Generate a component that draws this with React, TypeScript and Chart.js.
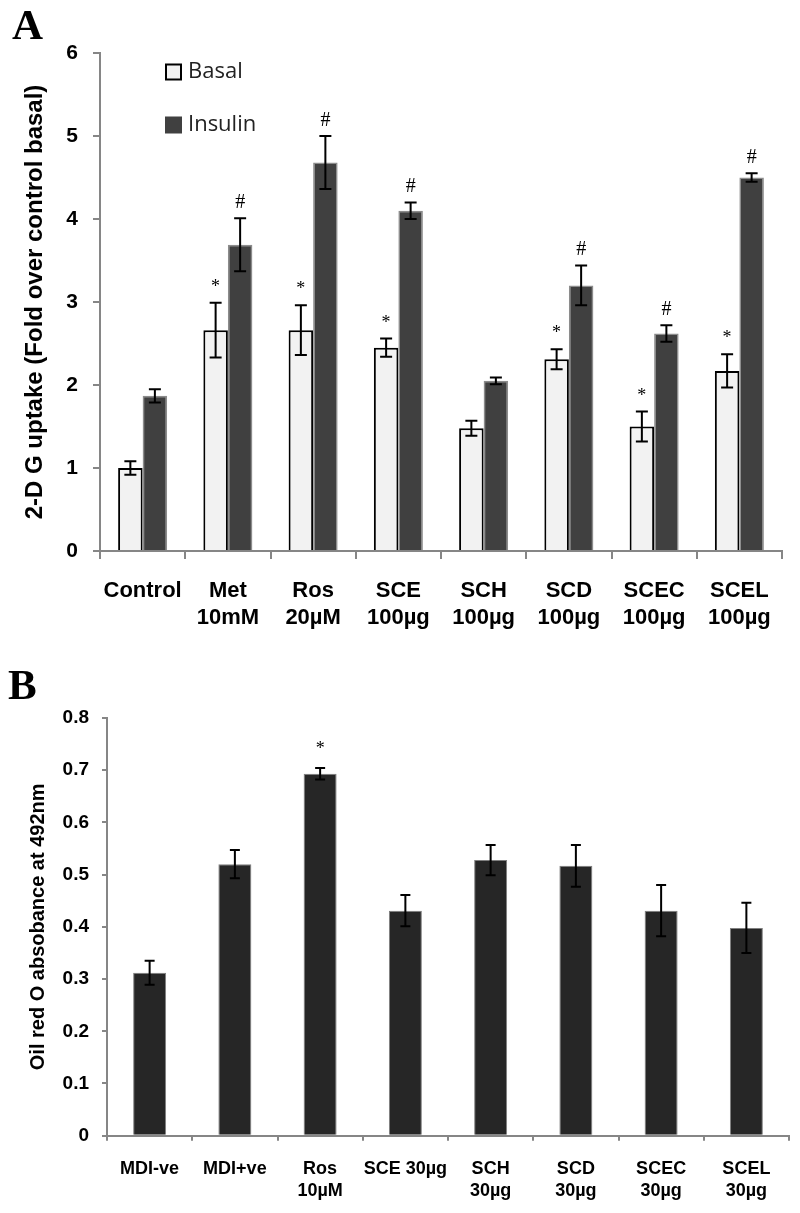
import React, { useEffect, useRef } from "react";
import { Chart, registerables } from "chart.js";

Chart.register(...registerables);

// ---------- Panel A data ----------
const categoriesA: string[][] = [
  ["Control"],
  ["Met", "10mM"],
  ["Ros", "20µM"],
  ["SCE", "100µg"],
  ["SCH", "100µg"],
  ["SCD", "100µg"],
  ["SCEC", "100µg"],
  ["SCEL", "100µg"],
];
const basalValues = [1.0, 2.66, 2.66, 2.45, 1.48, 2.31, 1.5, 2.17];
const basalErrors = [0.08, 0.33, 0.3, 0.11, 0.09, 0.12, 0.18, 0.2];
const basalMarks = ["", "*", "*", "*", "", "*", "*", "*"];
const insulinValues = [1.87, 3.69, 4.68, 4.1, 2.05, 3.2, 2.62, 4.5];
const insulinErrors = [0.08, 0.32, 0.32, 0.1, 0.04, 0.24, 0.1, 0.05];
const insulinMarks = ["", "#", "#", "#", "", "#", "#", "#"];
const yTickLabelsA = ["0", "1", "2", "3", "4", "5", "6"];
const seriesNamesA = ["Basal", "Insulin"];

// ---------- Panel B data ----------
const categoriesB: string[][] = [
  ["MDI-ve"],
  ["MDI+ve"],
  ["Ros", "10µM"],
  ["SCE 30µg"],
  ["SCH", "30µg"],
  ["SCD", "30µg"],
  ["SCEC", "30µg"],
  ["SCEL", "30µg"],
];
const oilValues = [0.312, 0.52, 0.693, 0.431, 0.528, 0.517, 0.431, 0.398];
const oilErrors = [0.023, 0.027, 0.011, 0.03, 0.029, 0.04, 0.049, 0.048];
const oilMarks = ["", "", "*", "", "", "", "", ""];
const yTickLabelsB = ["0", "0.1", "0.2", "0.3", "0.4", "0.5", "0.6", "0.7", "0.8"];

const SANS = "'Liberation Sans', Arial, sans-serif";
const SERIF = "'Liberation Serif', 'Times New Roman', serif";
const AXIS_GREY = "#868686";

const errorBarPlugin = {
  id: "errorBars",
  afterDatasetsDraw(chart: any, _args: any, opts: any) {
    const ctx = chart.ctx;
    const yScale = chart.scales.y;
    (opts.sets || []).forEach((set: any, di: number) => {
      const meta = chart.getDatasetMeta(di);
      const vals = chart.data.datasets[di].data as number[];
      meta.data.forEach((bar: any, i: number) => {
        const v = vals[i];
        const e = set.errors[i];
        const top = yScale.getPixelForValue(v + e);
        const bot = yScale.getPixelForValue(v - e);
        ctx.save();
        ctx.strokeStyle = "#000";
        ctx.lineWidth = opts.lineWidth;
        ctx.beginPath();
        ctx.moveTo(bar.x, top);
        ctx.lineTo(bar.x, bot);
        ctx.moveTo(bar.x - opts.cap, top);
        ctx.lineTo(bar.x + opts.cap, top);
        ctx.moveTo(bar.x - opts.cap, bot);
        ctx.lineTo(bar.x + opts.cap, bot);
        ctx.stroke();
        const m = set.marks[i];
        if (m) {
          ctx.fillStyle = "#000";
          ctx.textAlign = "center";
          ctx.textBaseline = "alphabetic";
          if (m === "#") {
            ctx.font = `20px ${SERIF}`;
            ctx.fillText(m, bar.x, top - opts.hashGap);
          } else {
            ctx.font = `18px ${SERIF}`;
            ctx.fillText(m, bar.x, top - opts.starGap);
          }
        }
        ctx.restore();
      });
    });
  },
};

const panelLabelPlugin = {
  id: "panelLabel",
  afterDraw(chart: any, _args: any, opts: any) {
    const ctx = chart.ctx;
    ctx.save();
    ctx.fillStyle = "#000";
    ctx.font = `bold 43px ${SERIF}`;
    ctx.textAlign = "left";
    ctx.textBaseline = "alphabetic";
    ctx.fillText(opts.text, opts.x, opts.y);
    ctx.restore();
  },
};

const legendPlugin = {
  id: "insideLegend",
  afterDraw(chart: any, _args: any, opts: any) {
    if (!opts.items) return;
    const ctx = chart.ctx;
    ctx.save();
    opts.items.forEach((it: any) => {
      ctx.fillStyle = it.fill;
      ctx.fillRect(opts.x, it.y - 7.5, 15, 15);
      ctx.strokeStyle = it.stroke;
      ctx.lineWidth = 2;
      ctx.strokeRect(opts.x, it.y - 7.5, 15, 15);
      ctx.fillStyle = "#222";
      ctx.font = `22px 'Open Sans', ${SANS}`;
      ctx.textAlign = "left";
      ctx.textBaseline = "middle";
      ctx.fillText(it.label, opts.x + 22, it.y);
    });
    ctx.restore();
  },
};

function ChartA() {
  const ref = useRef<HTMLCanvasElement | null>(null);
  useEffect(() => {
    if (!ref.current) return;
    const chart = new Chart(ref.current, {
      type: "bar",
      data: {
        labels: categoriesA,
        datasets: [
          {
            label: seriesNamesA[0],
            data: basalValues,
            backgroundColor: "#f2f2f2",
            borderColor: "#000",
            borderWidth: 2,
            categoryPercentage: 0.575,
            barPercentage: 1,
          },
          {
            label: seriesNamesA[1],
            data: insulinValues,
            backgroundColor: "#404040",
            borderColor: "#8c8c8c",
            borderWidth: 1.5,
            categoryPercentage: 0.575,
            barPercentage: 1,
          },
        ],
      },
      options: {
        responsive: false,
        animation: false,
        layout: { padding: { top: 53, right: 18, left: 0, bottom: 0 } },
        plugins: {
          legend: { display: false },
          tooltip: { enabled: false },
          errorBars: {
            sets: [
              { errors: basalErrors, marks: basalMarks },
              { errors: insulinErrors, marks: insulinMarks },
            ],
            lineWidth: 2,
            cap: 6,
            hashGap: 10,
            starGap: 11,
          },
          panelLabel: { text: "A", x: 12, y: 39 },
          insideLegend: {
            x: 166,
            items: [
              { label: seriesNamesA[0], fill: "#f2f2f2", stroke: "#000", y: 72 },
              { label: seriesNamesA[1], fill: "#404040", stroke: "#404040", y: 125 },
            ],
          },
        } as any,
        scales: {
          x: {
            grid: {
              offset: true,
              drawOnChartArea: false,
              tickLength: 8,
              color: AXIS_GREY,
              lineWidth: 2,
            },
            border: { color: AXIS_GREY, width: 2 },
            ticks: {
              font: { family: SANS, size: 22, weight: "bold" },
              color: "#000",
              padding: 19,
              maxRotation: 0,
              autoSkip: false,
            },
            afterFit(scale: any) {
              scale.height = 109;
            },
          },
          y: {
            min: 0,
            max: 6,
            ticks: {
              stepSize: 1,
              font: { family: SANS, size: 21, weight: "bold" },
              color: "#000",
              padding: 15,
              callback: (_v: any, i: number) => yTickLabelsA[i],
            },
            grid: {
              drawOnChartArea: false,
              tickLength: 7,
              color: AXIS_GREY,
              lineWidth: 2,
            },
            border: { color: AXIS_GREY, width: 2 },
            title: {
              display: true,
              text: "2-D G uptake (Fold over control basal)",
              font: { family: SANS, size: 24, weight: "bold" },
              color: "#000",
              padding: { top: 21, bottom: 0 },
            },
            afterFit(scale: any) {
              scale.width = 100;
            },
          },
        },
      },
      plugins: [errorBarPlugin, panelLabelPlugin, legendPlugin],
    } as any);
    return () => chart.destroy();
  }, []);
  return <canvas ref={ref} width={800} height={660} style={{ display: "block" }} />;
}

function ChartB() {
  const ref = useRef<HTMLCanvasElement | null>(null);
  useEffect(() => {
    if (!ref.current) return;
    const chart = new Chart(ref.current, {
      type: "bar",
      data: {
        labels: categoriesB,
        datasets: [
          {
            label: "Oil red O",
            data: oilValues,
            backgroundColor: "#262626",
            borderColor: "#7f7f7f",
            borderWidth: 1,
            categoryPercentage: 1,
            barPercentage: 0.387,
          },
        ],
      },
      options: {
        responsive: false,
        animation: false,
        layout: { padding: { top: 58, right: 11, left: 0, bottom: 0 } },
        plugins: {
          legend: { display: false },
          tooltip: { enabled: false },
          errorBars: {
            sets: [{ errors: oilErrors, marks: oilMarks }],
            lineWidth: 2,
            cap: 5,
            hashGap: 10,
            starGap: 14,
          },
          panelLabel: { text: "B", x: 8, y: 39 },
        } as any,
        scales: {
          x: {
            grid: {
              offset: true,
              drawOnChartArea: false,
              tickLength: 5,
              color: AXIS_GREY,
              lineWidth: 2,
            },
            border: { color: AXIS_GREY, width: 2 },
            ticks: {
              font: { family: SANS, size: 18, weight: "bold" },
              color: "#000",
              padding: 18,
              maxRotation: 0,
              autoSkip: false,
            },
            afterFit(scale: any) {
              scale.height = 77.3;
            },
          },
          y: {
            min: 0,
            max: 0.8,
            ticks: {
              stepSize: 0.1,
              font: { family: SANS, size: 19, weight: "bold" },
              color: "#000",
              padding: 13,
              callback: (_v: any, i: number) => yTickLabelsB[i],
            },
            grid: {
              drawOnChartArea: false,
              tickLength: 5,
              color: AXIS_GREY,
              lineWidth: 2,
            },
            border: { color: AXIS_GREY, width: 2 },
            title: {
              display: true,
              text: "Oil red O absobance at 492nm",
              font: { family: SANS, size: 20, weight: "bold" },
              color: "#000",
              padding: { top: 26, bottom: 0 },
            },
            afterFit(scale: any) {
              scale.width = 107;
            },
          },
        },
      },
      plugins: [errorBarPlugin, panelLabelPlugin],
    } as any);
    return () => chart.destroy();
  }, []);
  return <canvas ref={ref} width={800} height={553} style={{ display: "block" }} />;
}

export default function App() {
  return (
    <div
      style={{
        position: "absolute",
        left: 0,
        top: 0,
        width: 800,
        height: 1213,
        background: "#fff",
      }}
    >
      <ChartA />
      <ChartB />
    </div>
  );
}
